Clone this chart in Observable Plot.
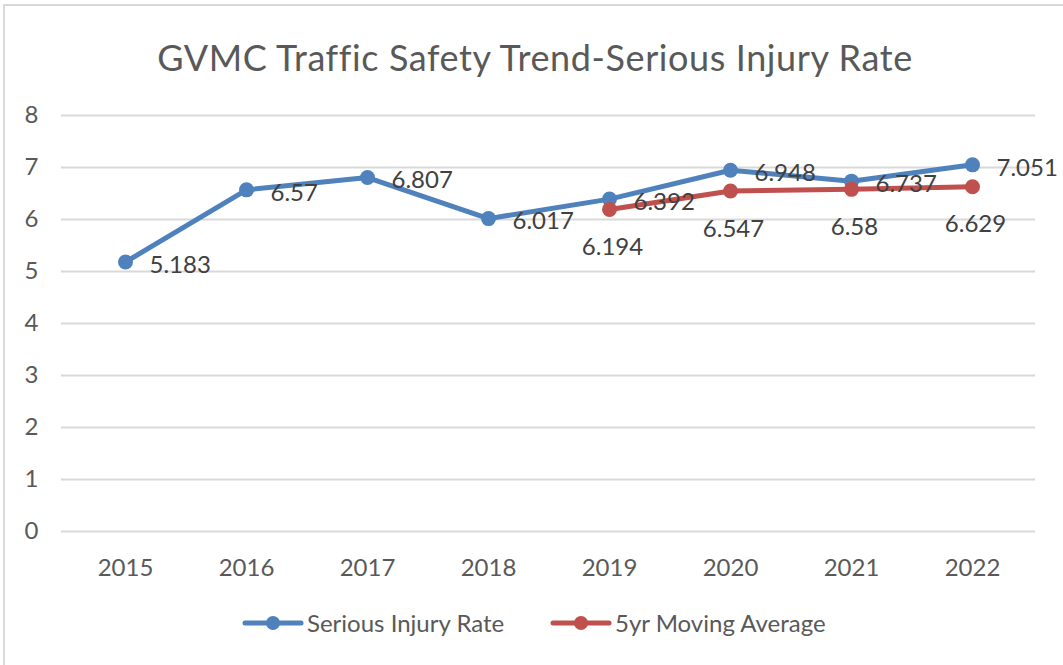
<!DOCTYPE html>
<html>
<head>
<meta charset="utf-8">
<script src="https://cdn.jsdelivr.net/npm/d3@7"></script>
<script src="https://cdn.jsdelivr.net/npm/@observablehq/plot@0.6"></script>
<style>
  html, body { margin: 0; padding: 0; background: #fff; }
  #wrap { position: relative; width: 1063px; height: 665px; overflow: hidden; font-family: Lato, "Open Sans", sans-serif; color: #595959; }
  #frame { position: absolute; left: 3px; top: 4px; width: 1100px; height: 700px; border: 2px solid #d9d9d9; box-sizing: border-box; }
  #title { position: absolute; left: 0; width: 1070px; top: 36px; text-align: center; font-size: 36px; letter-spacing: 0.6px; line-height: 42px; white-space: nowrap; }
  #chart { position: absolute; left: 0; top: 0; }
  #legend { position: absolute; top: 608px; left: 0; width: 1063px; height: 30px; }
  .item { position: absolute; top: 0; display: flex; align-items: center; font-size: 24px; line-height: 30px; white-space: nowrap; }
  .item svg { display: block; margin-right: 3px; }
</style>
</head>
<body>
<div id="wrap">
  <div id="frame"></div>
  <div id="chart"></div>
  <div id="title"></div>
  <div id="legend"></div>
</div>
<script>
const titleText = "GVMC Traffic Safety Trend-Serious Injury Rate";
const years = ["2015", "2016", "2017", "2018", "2019", "2020", "2021", "2022"];
const injuryRate = [5.183, 6.57, 6.807, 6.017, 6.392, 6.948, 6.737, 7.051];
const avgYears = ["2019", "2020", "2021", "2022"];
const movingAvg = [6.194, 6.547, 6.58, 6.629];
const yTicks = [0, 1, 2, 3, 4, 5, 6, 7, 8];
const seriesNames = ["Serious Injury Rate", "5yr Moving Average"];
const seriesColors = ["#4f81bd", "#c0504d"];

const rateData = years.map((year, i) => ({year, value: injuryRate[i]}));
const avgData = avgYears.map((year, i) => ({year, value: movingAvg[i]}));

document.getElementById("title").textContent = titleText;

const chart = Plot.plot({
  width: 1063,
  height: 600,
  marginLeft: 61,
  marginRight: 28,
  marginTop: 115,
  marginBottom: 69,
  x: {type: "point", domain: years, padding: 0.5},
  y: {domain: [0, 8]},
  style: {fontFamily: "Lato, 'Open Sans', sans-serif", fontSize: "24px", color: "#595959", background: "transparent", overflow: "visible"},
  marks: [
    Plot.gridY(yTicks, {stroke: "#d9d9d9", strokeOpacity: 1, strokeWidth: 2}),
    Plot.axisY(yTicks, {tickSize: 0, tickPadding: 23, fontSize: 24, fill: "#595959", label: null, tickFormat: d => String(d)}),
    Plot.axisX(years, {tickSize: 0, tickPadding: 27, fontSize: 24, fill: "#595959", label: null}),
    Plot.line(rateData, {x: "year", y: "value", stroke: seriesColors[0], strokeWidth: 5, strokeLinejoin: "round", strokeLinecap: "round"}),
    Plot.dot(rateData, {x: "year", y: "value", fill: seriesColors[0], r: 7.5}),
    Plot.line(avgData, {x: "year", y: "value", stroke: seriesColors[1], strokeWidth: 5, strokeLinejoin: "round", strokeLinecap: "round"}),
    Plot.dot(avgData, {x: "year", y: "value", fill: seriesColors[1], r: 7.5}),
    Plot.text(rateData, {x: "year", y: "value", text: d => String(d.value), textAnchor: "start", dx: 24, dy: 3, fontSize: 24, fill: "#404040"}),
    Plot.text(avgData, {x: "year", y: "value", text: d => String(d.value), dx: 3, dy: 38, fontSize: 24, fill: "#404040"})
  ]
});
document.getElementById("chart").appendChild(chart);

const legend = document.getElementById("legend");
const legendLefts = [242, 550];
seriesNames.forEach((name, i) => {
  const item = document.createElement("div");
  item.className = "item";
  item.style.left = legendLefts[i] + "px";
  item.innerHTML = `<svg width="62" height="20"><line x1="3" x2="59" y1="10" y2="10" stroke="${seriesColors[i]}" stroke-width="5" stroke-linecap="round"/><circle cx="31" cy="10" r="7" fill="${seriesColors[i]}"/></svg><span>${name}</span>`;
  legend.appendChild(item);
});
</script>
</body>
</html>
